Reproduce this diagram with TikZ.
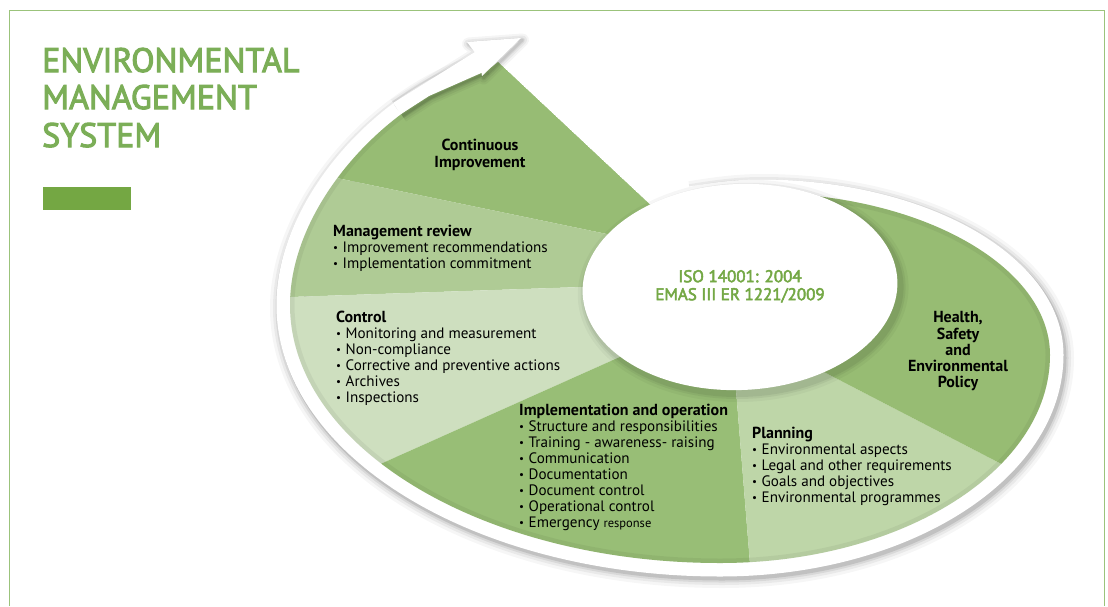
\documentclass[tikz,border=0pt]{standalone}
\usepackage{fontspec}
\setmainfont{PT Sans}
\newfontfamily\titlefont{PT Sans}[FakeBold=3]
\definecolor{frameg}{HTML}{9BC37B}
\definecolor{titleg}{HTML}{7BAE57}
\definecolor{barg}{HTML}{74A743}
\definecolor{isog}{HTML}{74A845}
\definecolor{cig}{HTML}{97BC74}
\definecolor{mrg}{HTML}{AFCB95}
\definecolor{ctrlg}{HTML}{CEDFBF}
\definecolor{implg}{HTML}{98BE76}
\definecolor{plang}{HTML}{BED6A8}
\definecolor{hseg}{HTML}{97BC73}
\tikzset{
  titletext/.style={anchor=base west, inner sep=0pt, text=titleg, font=\titlefont\fontsize{34}{37}\selectfont},
  blocktext/.style={anchor=north west, inner sep=0pt, align=left, text=black, font=\fontsize{15.1}{16}\selectfont},
  centertext/.style={anchor=north, inner sep=0pt, align=center, text=black, font=\fontsize{16}{16}\selectfont\bfseries},
  isotext/.style={anchor=north, inner sep=0pt, align=center, text=isog, font=\titlefont\fontsize{17}{18}\selectfont},
  shade/.style={draw=black, line cap=butt, line join=round},
}
\newcommand{\itm}{\raisebox{0.8pt}{\fontsize{11}{11}\selectfont\textbullet}\hspace{4.5pt}}
\newcommand{\hdr}[1]{{\fontsize{16}{16}\selectfont\bfseries #1}}
\def\spiralpath{(690,200) .. controls (720,195) and (740,193) .. (760,193)
  .. controls (920,193) and (1050,266) .. (1050,355)
  .. controls (1050,470) and (902,563) .. (720,563)
  .. controls (483,563) and (290,447) .. (290,305)
  .. controls (290,205) and (388,98) .. (488,70)}
\def\arrowedge{(401,114) -- (429,96) -- (481,73) -- (482,76) -- (521,38) -- (467,42) -- (478,50) -- (393,103)}
\begin{document}
\begin{tikzpicture}[x=1pt,y=-1pt]
\useasboundingbox (0,0) rectangle (1108,606);
\fill[white] (0,0) rectangle (1108,606);
% frame
\draw[frameg, line width=1.6pt] (9.5,606) -- (9.5,10.5) -- (1104.5,10.5) -- (1104.5,606);
% title
\node[titletext] (t1) at (42,72) {ENVIRONMENTAL};
\node[titletext] (t2) at (42,109) {MANAGEMENT};
\node[titletext] (t3) at (42,147) {SYSTEM};
\fill[barg] (43,187) rectangle (131,210);
% shadow of the band
\foreach \w/\o in {44/0.035,38/0.05,33/0.07,29/0.10}{
  \draw[shade, line width=\w, opacity=\o, shift={(2,3)}] \spiralpath;
}
% white band
\draw[white, line width=27, line cap=butt] \spiralpath;
% green sectors
\begin{scope}
\clip \spiralpath -- (498,62) -- (690,242) -- (725,285) -- cycle;
\fill[cig]   (725,285) -- (690,242) -- (348,-79) -- (33,115) -- (660,245) -- cycle;
\fill[mrg]   (725,285) -- (660,245) -- (33,115) -- (0,307) -- (640,285) -- cycle;
\fill[ctrlg] (725,285) -- (640,285) -- (0,307) -- (150,567) -- (660,339) -- cycle;
\fill[implg] (725,285) -- (660,339) -- (150,567) -- (763,726) -- (732,340) -- cycle;
\fill[plang] (725,285) -- (732,340) -- (763,726) -- (1181,557) -- (793,356) -- cycle;
\fill[hseg]  (725,285) -- (793,356) -- (1181,557) -- (1200,100) -- (800,-50) -- cycle;
% soft inner shade along the band
\draw[black, opacity=0.05, line width=9, line cap=butt] \spiralpath;
\end{scope}
% arrow head: soft glow, then the white head
\foreach \w/\o in {13/0.04,9/0.05,5/0.07,2.5/0.08}{
  \draw[shade, line width=\w, opacity=\o, shift={(1.5,2)}] \arrowedge;
}
\fill[white] (393,103) -- (478,50) -- (490,64) -- (488,70) -- (429,96) -- (401,114) -- cycle;
\fill[white] (467,42) -- (521,38) -- (482,76) -- (479,58) -- cycle;
% central ellipse with soft shadow
\foreach \r/\o in {8/0.035,5/0.05,3/0.06}{
  \fill[black, opacity=\o, rotate around={2.4:(740,287)}] (743,291) ellipse [x radius=157.5+\r, y radius=103+\r];
}
\fill[white, rotate around={2.4:(740,287)}] (740,287) ellipse [x radius=157.5, y radius=103];
\node[isotext] (iso) at (740,269.4) {\strut ISO 14001: 2004\\EMAS III ER 1221/2009};
% sector texts
\node[centertext] (ci) at (480,138.8) {\strut Continuous\\Improvement};
\node[blocktext] (mr) at (333,224.8) {\strut\hdr{Management review}\\
  \itm Improvement recommendations\\
  \itm Implementation commitment};
\node[blocktext] (ctrl) at (336,310.8) {\strut\hdr{Control}\\
  \itm Monitoring and measurement\\
  \itm Non-compliance\\
  \itm Corrective and preventive actions\\
  \itm Archives\\
  \itm Inspections};
\node[blocktext] (impl) at (519,403.8) {\strut\hdr{Implementation and operation}\\
  \itm Structure and responsibilities\\
  \itm Training - awareness- raising\\
  \itm Communication\\
  \itm Documentation\\
  \itm Document control\\
  \itm Operational control\\
  \itm Emergency {\fontsize{12.5}{16}\selectfont response}};
\node[blocktext] (plan) at (752,426.8) {\strut\hdr{Planning}\\
  \itm Environmental aspects\\
  \itm Legal and other requirements\\
  \itm Goals and objectives\\
  \itm Environmental programmes};
\node[centertext] (hse) at (958,310.8) {\strut Health,\\Safety\\and\\Environmental\\Policy};
\end{tikzpicture}
\end{document}
